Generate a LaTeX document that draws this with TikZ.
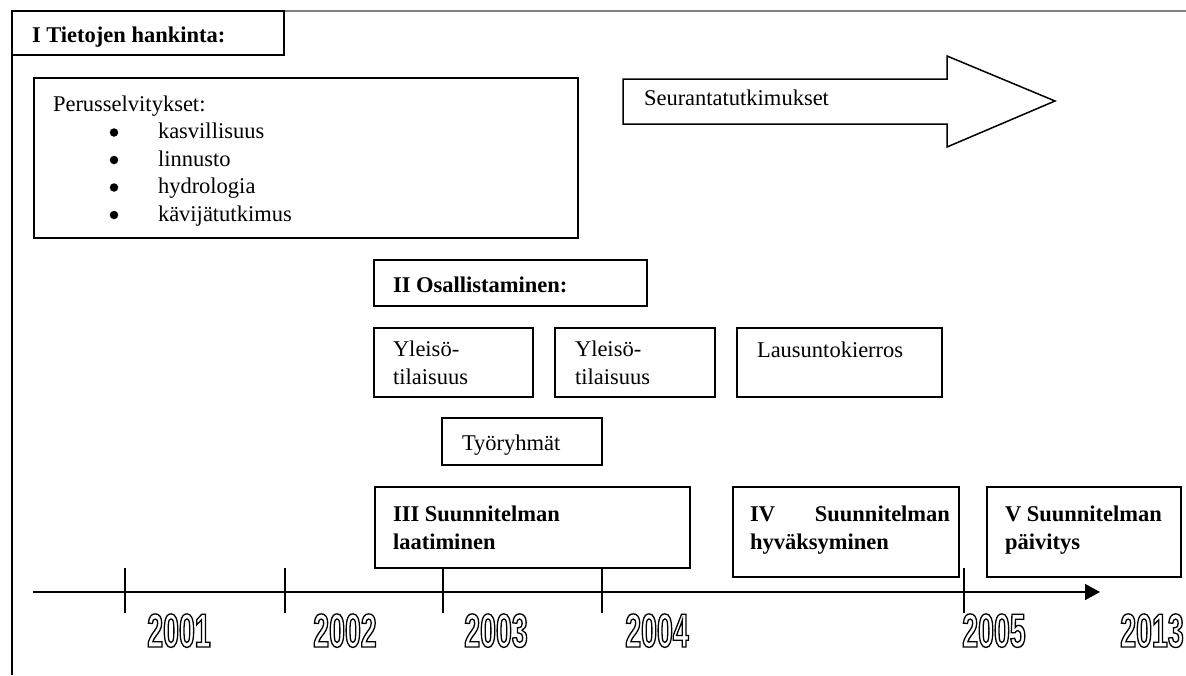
\documentclass[tikz,border=0pt]{standalone}
\usepackage{fontspec}
\setmainfont{Liberation Serif}
\newfontfamily\yearfont[FakeStretch=0.6]{Liberation Sans Bold}
\usetikzlibrary{arrows.meta,fit}
\newcommand\outlinetext[1]{\special{pdf:literal direct 1 Tr 1.3 w}#1\special{pdf:literal direct 0 Tr}}
\tikzset{
  box/.style={draw, line width=1.5pt, inner sep=0pt, outer sep=0pt},
  txt/.style={inner sep=0pt, outer sep=0pt, anchor=base west},
  dot/.style={circle, fill=black, inner sep=0pt, minimum size=8.5pt},
  yr/.style={inner sep=0pt, outer sep=0pt, anchor=base, font=\yearfont\fontsize{47.5}{50}\selectfont},
  tick/.style={line width=1.5pt},
  frameline/.style={line width=1.2pt}
}
\begin{document}
\begin{tikzpicture}[x=1pt,y=-1pt,font=\fontsize{22.5}{28}\selectfont]
\useasboundingbox (0,0) rectangle (1186,675);
% frame
\draw[frameline, draw=black!50] (284,11) -- (1186,11);
\draw[frameline] (12,55) -- (12,675);
% I
\node[box, fit={(12,11) (284,55)}] (b1) {};
\node[txt] (b1t) at (32,42) {\bfseries I Tietojen hankinta:};
% Perusselvitykset
\node[box, fit={(34,78) (578,238)}] (bp) {};
\node[txt] (bpt) at (53,111) {Perusselvitykset:};
\node[dot] (bu1) at (114,132.5) {};
\node[dot] (bu2) at (114,160) {};
\node[dot] (bu3) at (114,187.5) {};
\node[dot] (bu4) at (114,215) {};
\node[txt] (li1) at (158,138.5) {kasvillisuus};
\node[txt] (li2) at (158,166) {linnusto};
\node[txt] (li3) at (158,193.5) {hydrologia};
\node[txt] (li4) at (158,221) {kävijätutkimus};
% Seuranta arrow
\draw[line width=1.5pt, line join=miter] (623,79) -- (947,79) -- (947,56) -- (1055,101) -- (947,147) -- (947,124) -- (623,124) -- cycle;
\node[txt] (st) at (644,105) {Seurantatutkimukset};
% II
\node[box, fit={(374,260) (647,306)}] (b2) {};
\node[txt] (b2t) at (393,292) {\bfseries II Osallistaminen:};
\node[box, fit={(374,328) (533,397)}] (y1) {};
\node[txt] (y1a) at (393,356) {Yleisö-};
\node[txt] (y1b) at (393,384) {tilaisuus};
\node[box, fit={(555,328) (715,397)}] (y2) {};
\node[txt] (y2a) at (575,356) {Yleisö-};
\node[txt] (y2b) at (575,384) {tilaisuus};
\node[box, fit={(737,328) (942,397)}] (la) {};
\node[txt] (lat) at (757,357) {Lausuntokierros};
\node[box, fit={(442,418) (602,465)}] (ty) {};
\node[txt] (tyt) at (462,450) {Työryhmät};
% III
\node[box, fit={(375,487) (690,568)}] (b3) {};
\node[txt] (b3a) at (393,521) {\bfseries III Suunnitelman};
\node[txt] (b3b) at (393,549) {\bfseries laatiminen};
% IV
\node[box, fit={(733,487) (959,577)}] (b4) {};
\node[txt] (b4a) at (750,521) {\bfseries IV};
\node[txt, anchor=base east] (b4b) at (950,521) {\bfseries Suunnitelman};
\node[txt] (b4c) at (750,549) {\bfseries hyväksyminen};
% V
\node[box, fit={(987,487) (1181,577)}] (b5) {};
\node[txt] (b5a) at (1005,521) {\bfseries V Suunnitelman};
\node[txt] (b5b) at (1005,549) {\bfseries päivitys};
% timeline
\coordinate (tl0) at (33,592);
\coordinate (tl1) at (1100,592);
\draw[line width=1.5pt, -{Triangle[length=15pt,width=16pt]}] (tl0) -- (tl1);
\foreach \x/\n in {125/a,285/b,443/c,602/d,964/e}{
  \coordinate (tk\n top) at (\x,568);
  \coordinate (tk\n bot) at (\x,613);
  \draw[tick] (tk\n top) -- (tk\n bot);
}
\node[yr] (y2001) at (179,647) {\outlinetext{2001}};
\node[yr] (y2002) at (345,647) {\outlinetext{2002}};
\node[yr] (y2003) at (496,647) {\outlinetext{2003}};
\node[yr] (y2004) at (657,647) {\outlinetext{2004}};
\node[yr] (y2005) at (994,647) {\outlinetext{2005}};
\node[yr] (y2013) at (1152,647) {\outlinetext{2013}};
\end{tikzpicture}
\end{document}
